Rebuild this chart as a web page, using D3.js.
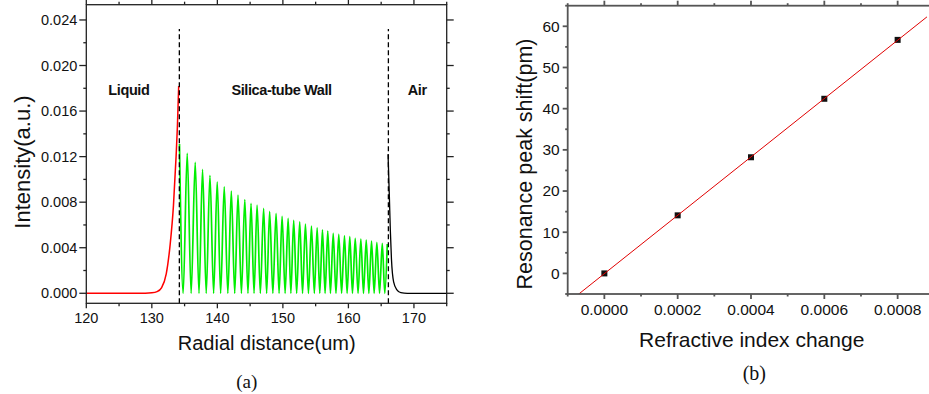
<!DOCTYPE html>
<html>
<head>
<meta charset="utf-8">
<script src="https://cdn.jsdelivr.net/npm/d3@7"></script>
<style>
  body { margin: 0; background: #fff; }
  svg { display: block; }
  text { font-family: "Liberation Sans", Arial, sans-serif; fill: #111; }
</style>
</head>
<body>
<svg id="chart" width="929" height="394"></svg>
<script>
// ---- panel (a): intensity vs radial distance ----
const xTicksA = [120, 130, 140, 150, 160, 170];
const yTicksA = [0, 0.004, 0.008, 0.012, 0.016, 0.020, 0.024];

// liquid region (red)
const liquidX = [120, 125, 129, 130, 130.8, 131.5, 132.2, 132.8, 133.3, 133.7, 133.9, 134.1];
const liquidY = [0, 0, 0.00001, 0.00004, 0.00014, 0.0005, 0.0017, 0.0043, 0.0077, 0.0120, 0.0146, 0.0182];

// silica wall (green): peak positions / heights and zero troughs
const peakX = [134.22, 135.40, 136.62, 137.74, 138.87, 139.98, 141.05, 142.13, 143.15, 144.19,
  145.14, 146.06, 147.06, 147.98, 148.96, 149.88, 150.80, 151.65, 152.57, 153.44,
  154.36, 155.23, 156.04, 156.85, 157.68, 158.53, 159.40, 160.21, 161.04, 161.90,
  162.72, 163.53, 164.34, 165.17, 165.93];
const peakY = [0.0131, 0.01228, 0.01149, 0.01088, 0.01035, 0.00979, 0.00935, 0.00897, 0.00862, 0.00822,
  0.0079, 0.00775, 0.00746, 0.00719, 0.00702, 0.00675, 0.00658, 0.0064, 0.00628, 0.00608,
  0.0059, 0.00575, 0.00558, 0.00547, 0.00526, 0.00517, 0.00505, 0.00497, 0.00482, 0.00476,
  0.00468, 0.00459, 0.00447, 0.00439, 0.00432];
const troughX = [134.78, 136.0, 137.2, 138.3, 139.43, 140.5, 141.6, 142.65, 143.67, 144.67,
  145.6, 146.56, 147.52, 148.47, 149.42, 150.34, 151.22, 152.1, 153.0, 153.9,
  154.8, 155.63, 156.44, 157.26, 158.1, 158.96, 159.8, 160.62, 161.47, 162.3,
  163.12, 163.93, 164.75, 165.55];

// air region (black)
const airX = [166.05, 166.25, 166.4, 166.57, 166.9, 167.4, 168.0, 169, 175];
const airY = [0.0122, 0.0085, 0.0055, 0.0030, 0.0010, 0.0003, 0.00005, 0, 0];

const boundaries = [134.2, 166.1];
const regionLabels = [
  { text: "Liquid", x: 126.5 },
  { text: "Silica-tube Wall", x: 149.8 },
  { text: "Air", x: 170.5 }
];

// ---- panel (b): peak shift vs refractive index change ----
const riChange = [0, 0.0002, 0.0004, 0.0006, 0.0008];
const peakShift = [0, 14.1, 28.2, 42.4, 56.7];
const xTicksB = [0, 0.0002, 0.0004, 0.0006, 0.0008];
const yTicksB = [0, 10, 20, 30, 40, 50, 60];

const svg = d3.select("#chart");

function frame(g, x, y, opt) {
  const [x0, x1] = x.range();
  const [y1, y0] = y.range();
  const ax = g.append("g").attr("class", "axes")
    .attr("stroke", opt.color).attr("stroke-width", opt.width).attr("fill", "none");
  ax.append("rect").attr("x", x0).attr("y", y0).attr("width", x1 - x0).attr("height", y1 - y0);

  const tickLines = (vals, len, isX) => {
    vals.forEach(v => {
      if (isX) {
        const px = x(v);
        ax.append("line").attr("x1", px).attr("x2", px).attr("y1", y1).attr("y2", y1 + len);
        ax.append("line").attr("x1", px).attr("x2", px).attr("y1", y0).attr("y2", y0 - len);
      } else {
        const py = y(v);
        ax.append("line").attr("y1", py).attr("y2", py).attr("x1", x0).attr("x2", x0 - len);
        ax.append("line").attr("y1", py).attr("y2", py).attr("x1", x1).attr("x2", x1 + len);
      }
    });
  };
  tickLines(opt.xMajor, opt.majorLen, true);
  tickLines(opt.xMinor, opt.minorLen, true);
  tickLines(opt.yMajor, opt.yMajorLen, false);
  tickLines(opt.yMinor, opt.minorLen, false);

  g.append("g").selectAll("text").data(opt.xMajor).join("text")
    .attr("x", d => x(d)).attr("y", y1 + opt.xLabelGap)
    .attr("text-anchor", "middle").attr("dy", "0.71em")
    .attr("font-size", opt.font).text(opt.xFmt);
  g.append("g").selectAll("text").data(opt.yMajor).join("text")
    .attr("x", x0 - opt.yLabelGap).attr("y", d => y(d))
    .attr("text-anchor", "end").attr("dy", "0.35em")
    .attr("font-size", opt.font).text(opt.yFmt);
}

// ================= panel (a) =================
const xA = d3.scaleLinear().domain([120, 175]).range([86.3, 446.7]);
const yA = d3.scaleLinear().domain([-0.00088, 0.02534]).range([303.3, 4.7]);
const gA = svg.append("g");

const lineA = d3.line().x(d => xA(d[0])).y(d => yA(d[1])).curve(d3.curveMonotoneX);

gA.append("path").datum(d3.zip(liquidX, liquidY))
  .attr("d", lineA).attr("fill", "none").attr("stroke", "#ff0000").attr("stroke-width", 1.5);

const wall = [];
peakX.forEach((px, i) => {
  wall.push([px, peakY[i]]);
  if (i < troughX.length) wall.push([troughX[i], 0]);
});
gA.append("path").datum(wall)
  .attr("d", lineA).attr("fill", "none").attr("stroke", "#00ee00").attr("stroke-width", 1.7);

gA.append("path").datum(d3.zip(airX, airY))
  .attr("d", lineA).attr("fill", "none").attr("stroke", "#000").attr("stroke-width", 1.3);

gA.append("g").selectAll("line").data(boundaries).join("line")
  .attr("x1", d => xA(d)).attr("x2", d => xA(d))
  .attr("y1", yA(-0.00088)).attr("y2", yA(0.0232))
  .attr("stroke", "#000").attr("stroke-width", 1.3).attr("stroke-dasharray", "5,3");

gA.append("g").selectAll("text").data(regionLabels).join("text")
  .attr("x", d => xA(d.x)).attr("y", 95)
  .attr("text-anchor", "middle").attr("font-weight", "bold").attr("font-size", 14.5)
  .attr("letter-spacing", "-0.4").text(d => d.text);

frame(gA, xA, yA, {
  color: "#222", width: 1.3,
  xMajor: xTicksA, xMinor: [125, 135, 145, 155, 165, 175],
  yMajor: yTicksA, yMinor: [0.002, 0.006, 0.010, 0.014, 0.018, 0.022],
  majorLen: 5, yMajorLen: 7, minorLen: 3,
  xLabelGap: 9, yLabelGap: 9, font: 14.5,
  xFmt: d3.format("d"), yFmt: d3.format(".3f")
});

gA.append("text").attr("transform", "translate(30,162) rotate(-90)")
  .attr("text-anchor", "middle").attr("font-size", 22).text("Intensity(a.u.)");
gA.append("text").attr("x", 266.7).attr("y", 350)
  .attr("text-anchor", "middle").attr("font-size", 20).text("Radial distance(um)");
gA.append("text").attr("x", 246.7).attr("y", 388)
  .attr("text-anchor", "middle").attr("font-size", 19)
  .style("font-family", "'Liberation Serif', 'Times New Roman', serif").text("(a)");

// ================= panel (b) =================
const xB = d3.scaleLinear().domain([-0.0001, 0.0009]).range([567.7, 934.3]);
const yB = d3.scaleLinear().domain([-5, 65]).range([294, 5.7]);
const gB = svg.append("g");

svg.append("defs").append("clipPath").attr("id", "clipB")
  .append("rect").attr("x", 567.7).attr("y", 5.7).attr("width", 934.3 - 567.7).attr("height", 294 - 5.7);

// least-squares fit through the measured points
const mx = d3.mean(riChange), my = d3.mean(peakShift);
const slope = d3.sum(riChange, (v, i) => (v - mx) * (peakShift[i] - my)) /
  d3.sum(riChange, v => (v - mx) * (v - mx));
const icpt = my - slope * mx;
const fitRange = [-0.0001, 0.00088];

gB.append("g").selectAll("rect").data(d3.zip(riChange, peakShift)).join("rect")
  .attr("x", d => xB(d[0]) - 3).attr("y", d => yB(d[1]) - 3)
  .attr("width", 6).attr("height", 6).attr("fill", "#111");

gB.append("line").attr("clip-path", "url(#clipB)")
  .attr("x1", xB(fitRange[0])).attr("y1", yB(slope * fitRange[0] + icpt))
  .attr("x2", xB(fitRange[1])).attr("y2", yB(slope * fitRange[1] + icpt))
  .attr("stroke", "#e00000").attr("stroke-width", 1);

frame(gB, xB, yB, {
  color: "#555", width: 1.8,
  xMajor: xTicksB, xMinor: [-0.0001, 0.0001, 0.0003, 0.0005, 0.0007],
  yMajor: yTicksB, yMinor: [-5, 5, 15, 25, 35, 45, 55, 65],
  majorLen: 5, yMajorLen: 5, minorLen: 2.5,
  xLabelGap: 10, yLabelGap: 8, font: 15.5,
  xFmt: d3.format(".4f"), yFmt: d3.format("d")
});

gB.append("text").attr("transform", "translate(532,164) rotate(-90)")
  .attr("text-anchor", "middle").attr("font-size", 21.5).text("Resonance peak shift(pm)");
gB.append("text").attr("x", 751.7).attr("y", 347)
  .attr("text-anchor", "middle").attr("font-size", 21).text("Refractive index change");
gB.append("text").attr("x", 754.3).attr("y", 380)
  .attr("text-anchor", "middle").attr("font-size", 20)
  .style("font-family", "'Liberation Serif', 'Times New Roman', serif").text("(b)");
</script>
</body>
</html>
